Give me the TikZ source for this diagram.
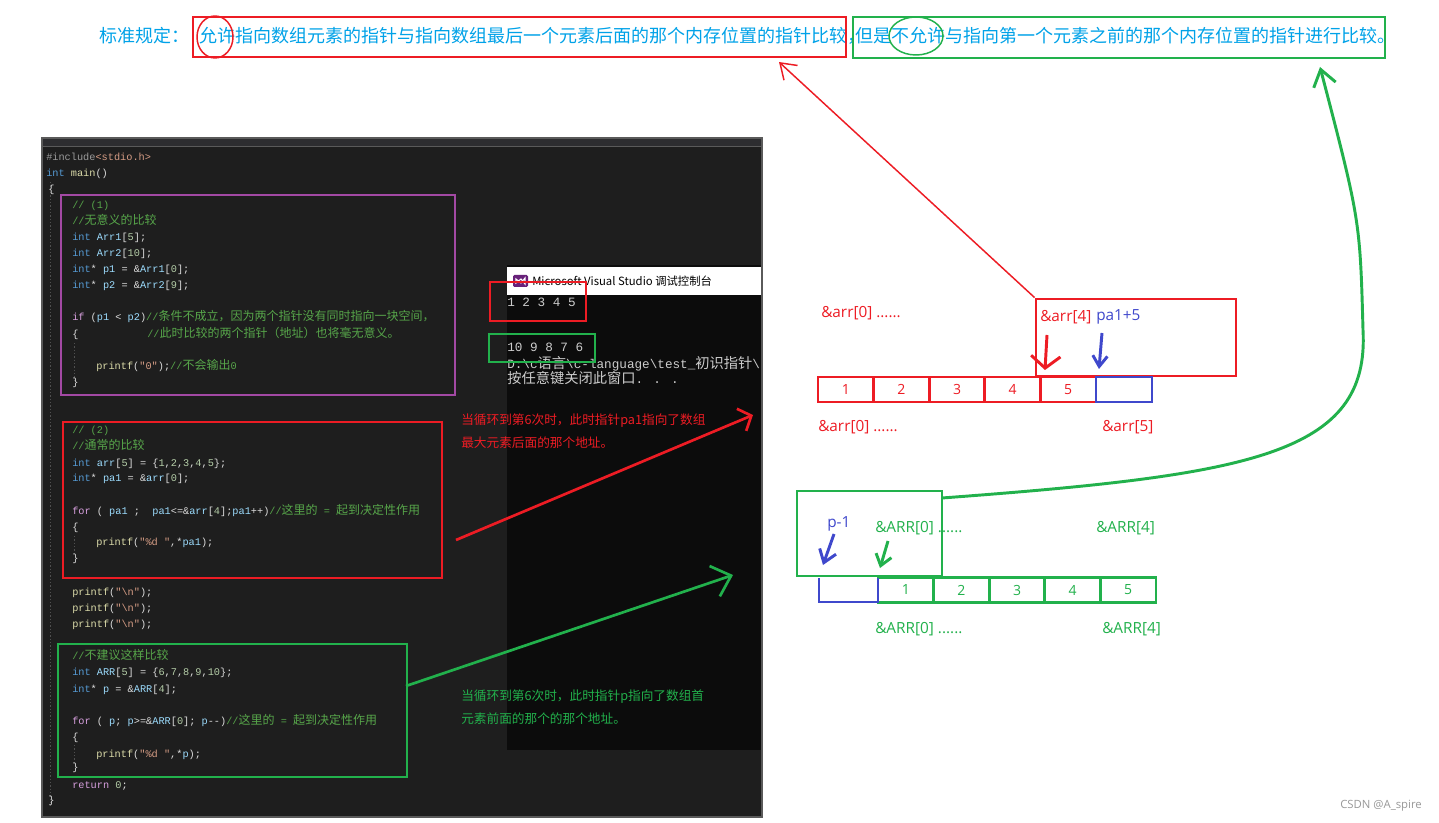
\documentclass[tikz,border=0pt]{standalone}
\usepackage{fontspec}
\setmainfont{Noto Sans CJK SC}
\newfontfamily\cjk{Noto Sans CJK SC}
\newfontfamily\latinsans{Open Sans}
\newfontfamily\codefont{Liberation Mono}
\usetikzlibrary{arrows.meta,fit}

\definecolor{codebg}{HTML}{1E1E1E}
\definecolor{codebar}{HTML}{2D2D30}
\definecolor{panelline}{HTML}{5A5A5A}
\definecolor{conbg}{HTML}{0C0C0C}
\definecolor{codetxt}{HTML}{DCDCDC}
\definecolor{contxt}{HTML}{CCCCCC}
\definecolor{kwblue}{HTML}{569CD6}
\definecolor{kwpurple}{HTML}{D8A0DF}
\definecolor{cmtgreen}{HTML}{57A64A}
\definecolor{varblue}{HTML}{9CDCFE}
\definecolor{fnyellow}{HTML}{DCDCAA}
\definecolor{numgreen}{HTML}{B5CEA8}
\definecolor{strorange}{HTML}{D69D85}
\definecolor{ppgray}{HTML}{9B9B9B}
\definecolor{guidegray}{HTML}{505050}
\definecolor{vspurple}{HTML}{68217A}
\definecolor{wmgray}{HTML}{999999}
\definecolor{pred}{RGB}{237,28,36}
\definecolor{pgreen}{RGB}{34,177,76}
\definecolor{pblue}{RGB}{63,72,204}
\definecolor{ppurple}{RGB}{163,73,164}
\definecolor{pturq}{RGB}{0,162,232}

% code colouring
\newcommand\ckw[1]{\textcolor{kwblue}{#1}}
\newcommand\cctl[1]{\textcolor{kwpurple}{#1}}
\newcommand\ccmt[1]{\textcolor{cmtgreen}{#1}}
\newcommand\cvar[1]{\textcolor{varblue}{#1}}
\newcommand\cfn[1]{\textcolor{fnyellow}{#1}}
\newcommand\cnum[1]{\textcolor{numgreen}{#1}}
\newcommand\cstr[1]{\textcolor{strorange}{#1}}
\newcommand\czh[1]{{\fontsize{9}{10}\selectfont\cjk #1}}
\newcommand\conzh[1]{{\fontsize{10.7}{12}\selectfont\cjk #1}}

\tikzset{
  codeline/.style={anchor=west, inner sep=0pt, text height=6pt, text depth=1pt,
    text=codetxt, font=\codefont\fontsize{7.7}{9}\selectfont},
  conline/.style={anchor=west, inner sep=0pt, text height=7pt, text depth=1pt,
    text=contxt, font=\codefont\fontsize{9.5}{11}\selectfont},
  ruletext/.style={anchor=west, inner sep=0pt, text=pturq, font=\fontsize{13.5}{16}\selectfont},
  notetext/.style={anchor=west, inner sep=0pt, text=#1, font=\fontsize{9.5}{11}\selectfont},
  addr/.style={anchor=west, inner sep=0pt, text=#1, font=\latinsans\fontsize{11.5}{13}\selectfont},
  markbox/.style={draw=#1, line width=2.2pt, inner sep=0pt},
  thinbox/.style={draw=#1, line width=1.1pt, inner sep=0pt},
  cell/.style={draw=#1, text=#1, line width=2.2pt, inner sep=0pt,
    minimum width=41.7pt, minimum height=18.75pt, font=\latinsans\fontsize{10.5}{12}\selectfont},
  arrowR/.style={pred, line width=2pt, -{Straight Barb[length=8pt,width=18pt]}},
  arrowG/.style={pgreen, line width=2pt, -{Straight Barb[length=13pt,width=24pt]}},
  thinarrow/.style={pred, line width=1.1pt, -{Straight Barb[length=11pt,width=15pt]}},
  curvearrow/.style={pgreen, line width=2.2pt, -{Straight Barb[length=12pt,width=17pt]}},
  hand/.style args={#1/#2/#3}{#1, line width=2.2pt, -{Straight Barb[length=#2,width=#3]}},
  guideline/.style={guidegray, line width=0.6pt, dash pattern=on 1pt off 1.5pt},
}

\begin{document}
\begin{tikzpicture}[x=0.75pt,y=-0.75pt]
\useasboundingbox (0,0) rectangle (1439,823);
\fill[white] (0,0) rectangle (1439,823);

% rule at the top
\node[ruletext] (ruleHead) at (99,36) {标准规定：};
\node[ruletext] (ruleYes) at (199,36) {允许指向数组元素的指针与指向数组最后一个元素后面的那个内存位置的指针比较，};
\node[ruletext] (ruleNo) at (855,36) {但是不允许与指向第一个元素之前的那个内存位置的指针进行比较。};
\node[thinbox=pred, fit={(193,17) (846,57)}] (boxYes) {};
\node[thinbox=pgreen, fit={(853,17) (1385,58)}] (boxNo) {};
\draw[pred, line width=1.1pt] (215,37) ellipse [x radius=18, y radius=21];
\draw[pgreen, line width=1.1pt] (916,36) ellipse [x radius=27, y radius=19];

% editor
\fill[codebg] (42,138) rectangle (762,817);
\fill[codebar] (42,138) rectangle (762,146);
\draw[panelline] (42,146) -- (762,146);
\draw[panelline, line width=1pt] (42,138) rectangle (762,817);
\draw[guideline] (50,182) -- (50,806);
\draw[guideline] (74,343) -- (74,380);
\draw[guideline] (74,536) -- (74,556);
\draw[guideline] (74,745) -- (74,765);

% console
\fill[conbg] (507,265) rectangle (761,750);
\fill[white] (507,267) rectangle (761,295);
\fill[vspurple, rounded corners=1pt] (513,275) rectangle (528,287);
\draw[white, line width=0.8pt] (516,279) -- (521,283) -- (525,278) -- (525,284) -- (521,279) -- (516,283) -- cycle;
\node[anchor=west, inner sep=0pt, font=\fontsize{8.5}{10}\selectfont] (conTitle) at (532,281) {Microsoft Visual Studio 调试控制台};
\begin{scope}
  \clip (507,265) rectangle (761,750);
  \node[conline] (out1) at (507,303) {1 2 3 4 5};
  \node[conline] (out2) at (507,348) {10 9 8 7 6};
  \node[conline] (out3) at (507,365) {D:\textbackslash c\conzh{语言}\textbackslash c-language\textbackslash test\_\conzh{初识指针}\textbackslash};
  \node[conline] (out4) at (507,380) {\conzh{按任意键关闭此窗口}. . .};
\end{scope}

% source code
\node[codeline] (c1) at (46,157) {\textcolor{ppgray}{\#include}\cstr{<stdio.h>}};
\node[codeline] (c2) at (46,173) {\ckw{int} \cfn{main}()};
\node[codeline] (c3) at (48,189) {\{};
\node[codeline] (c4) at (72,205) {\ccmt{// (1)}};
\node[codeline] (c5) at (72,221) {\ccmt{//\czh{无意义的比较}}};
\node[codeline] (c6) at (72,237) {\ckw{int} \cvar{Arr1}[\cnum{5}];};
\node[codeline] (c7) at (72,253) {\ckw{int} \cvar{Arr2}[\cnum{10}];};
\node[codeline] (c8) at (72,269) {\ckw{int}* \cvar{p1} = \&\cvar{Arr1}[\cnum{0}];};
\node[codeline] (c9) at (72,285) {\ckw{int}* \cvar{p2} = \&\cvar{Arr2}[\cnum{9}];};
\node[codeline] (c10) at (72,317) {\cctl{if} (\cvar{p1} < \cvar{p2})\ccmt{//\czh{条件不成立，因为两个指针没有同时指向一块空间，}}};
\node[codeline] (c11) at (72,334) {\{};
\node[codeline] (c11b) at (147,334) {\ccmt{//\czh{此时比较的两个指针（地址）也将毫无意义。}}};
\node[codeline] (c12) at (96,366) {\cfn{printf}(\cstr{"0"});\ccmt{//\czh{不会输出}0}};
\node[codeline] (c13) at (72,382) {\}};
\node[codeline] (c14) at (72,430) {\ccmt{// (2)}};
\node[codeline] (c15) at (72,446) {\ccmt{//\czh{通常的比较}}};
\node[codeline] (c16) at (72,463) {\ckw{int} \cvar{arr}[\cnum{5}] = \{\cnum{1},\cnum{2},\cnum{3},\cnum{4},\cnum{5}\};};
\node[codeline] (c17) at (72,478) {\ckw{int}* \cvar{pa1} = \&\cvar{arr}[\cnum{0}];};
\node[codeline] (c18) at (72,511) {\cctl{for} ( \cvar{pa1} ; ~\cvar{pa1}<=\&\cvar{arr}[\cnum{4}];\cvar{pa1}++)\ccmt{//\czh{这里的} = \czh{起到决定性作用}}};
\node[codeline] (c19) at (72,527) {\{};
\node[codeline] (c20) at (96,542) {\cfn{printf}(\cstr{"\%d "},*\cvar{pa1});};
\node[codeline] (c21) at (72,558) {\}};
\node[codeline] (c22) at (72,592) {\cfn{printf}(\cstr{"\textbackslash n"});};
\node[codeline] (c23) at (72,608) {\cfn{printf}(\cstr{"\textbackslash n"});};
\node[codeline] (c24) at (72,624) {\cfn{printf}(\cstr{"\textbackslash n"});};
\node[codeline] (c25) at (72,656) {\ccmt{//\czh{不建议这样比较}}};
\node[codeline] (c26) at (72,672) {\ckw{int} \cvar{ARR}[\cnum{5}] = \{\cnum{6},\cnum{7},\cnum{8},\cnum{9},\cnum{10}\};};
\node[codeline] (c27) at (72,689) {\ckw{int}* \cvar{p} = \&\cvar{ARR}[\cnum{4}];};
\node[codeline] (c28) at (72,721) {\cctl{for} ( \cvar{p}; \cvar{p}>=\&\cvar{ARR}[\cnum{0}]; \cvar{p}-{}-)\ccmt{//\czh{这里的} = \czh{起到决定性作用}}};
\node[codeline] (c29) at (72,737) {\{};
\node[codeline] (c30) at (96,754) {\cfn{printf}(\cstr{"\%d "},*\cvar{p});};
\node[codeline] (c31) at (72,767) {\}};
\node[codeline] (c32) at (72,785) {\cctl{return} \cnum{0};};
\node[codeline] (c33) at (48,800) {\}};

% marked blocks and outputs
\node[markbox=ppurple, fit={(61,195) (455,395)}] (boxMeaningless) {};
\node[markbox=pred, fit={(63,422) (442,578)}] (boxNormal) {};
\node[markbox=pgreen, fit={(58,644) (407,777)}] (boxAvoid) {};
\node[markbox=pred, fit={(490,282) (586,321)}] (boxOut1) {};
\node[markbox=pgreen, fit={(489,334) (595,362)}] (boxOut2) {};

% notes
\node[notetext=pred] (noteR1) at (461,421) {当循环到第6次时，此时指针pa1指向了数组};
\node[notetext=pred] (noteR2) at (461,443) {最大元素后面的那个地址。};
\node[notetext=pgreen] (noteG1) at (461,697) {当循环到第6次时，此时指针p指向了数组首};
\node[notetext=pgreen] (noteG2) at (461,719) {元素前面的那个的那个地址。};

\coordinate (arrRS) at (456,540);
\coordinate (arrRE) at (753,415);
\coordinate (arrGS) at (406,686);
\coordinate (arrGE) at (733,575);
\draw[arrowR] (arrRS) -- (arrRE);
\draw[arrowG] (arrGS) -- (arrGE);

% array arr
\node[addr=pred] (a0top) at (821,313) {\&arr[0] ......};
\node[markbox=pred, fit={(1036,299) (1236,376)}] (boxPa) {};
\node[addr=pred] (a4top) at (1040,317) {\&arr[4]};
\node[addr=pblue] (pa5) at (1096,317) {pa1+5};
\foreach \i in {1,...,5}
  \node[cell=pred] (ra\i) at ({818+55.6*(\i-0.5)},389.5) {\i};
\node[cell=pblue, minimum width=42pt] (ra6) at (1124,389.5) {};
\node[addr=pred] (a0bot) at (818,427) {\&arr[0] ......};
\node[addr=pred] (a5bot) at (1102,427) {\&arr[5]};
\coordinate (hr1) at (1047,335);
\coordinate (hr2) at (1045,370);
\coordinate (hb1) at (1102,333);
\coordinate (hb2) at (1099,369);
\draw[hand={pred/9pt/22pt}] (hr1) -- (hr2);
\draw[hand={pblue/8pt/11pt}] (hb1) -- (hb2);

% array ARR
\node[markbox=pgreen, fit={(797,491) (942,576)}] (boxP) {};
\node[addr=pblue] (pm1) at (827,524) {p-1};
\node[addr=pgreen] (A0top) at (875,528) {\&ARR[0] ......};
\node[addr=pgreen] (A4top) at (1096,528) {\&ARR[4]};
\foreach \i in {1,...,5}
  \node[cell=pgreen] (rb\i) at ({878+55.6*(\i-0.5)},590) {\i};
\draw[pblue, line width=2.2pt] (819,578) -- (819,602) -- (878,602) -- (878,578);
\node[addr=pgreen] (A0bot) at (875,629) {\&ARR[0] ......};
\node[addr=pgreen] (A4bot) at (1102,629) {\&ARR[4]};
\coordinate (hp1) at (834,534);
\coordinate (hp2) at (823,565);
\coordinate (hg1) at (888,541);
\coordinate (hg2) at (880,568);
\draw[hand={pblue/9pt/13pt}] (hp1) -- (hp2);
\draw[hand={pgreen/8pt/12pt}] (hg1) -- (hg2);

% links to the rule
\coordinate (ruleTipR) at (779,62);
\coordinate (curveS) at (942,498);
\coordinate (ruleTipG) at (1320,67);
\draw[thinarrow] (boxPa.north west) -- (ruleTipR);
\draw[curvearrow] (curveS) .. controls (1250,475) and (1370,455) .. (1363,330)
  .. controls (1360,220) .. (ruleTipG);

\node[anchor=west, inner sep=0pt, text=wmgray, font=\latinsans\fontsize{8.5}{10}\selectfont] (wm) at (1340,806) {CSDN @A\_spire};
\end{tikzpicture}
\end{document}
